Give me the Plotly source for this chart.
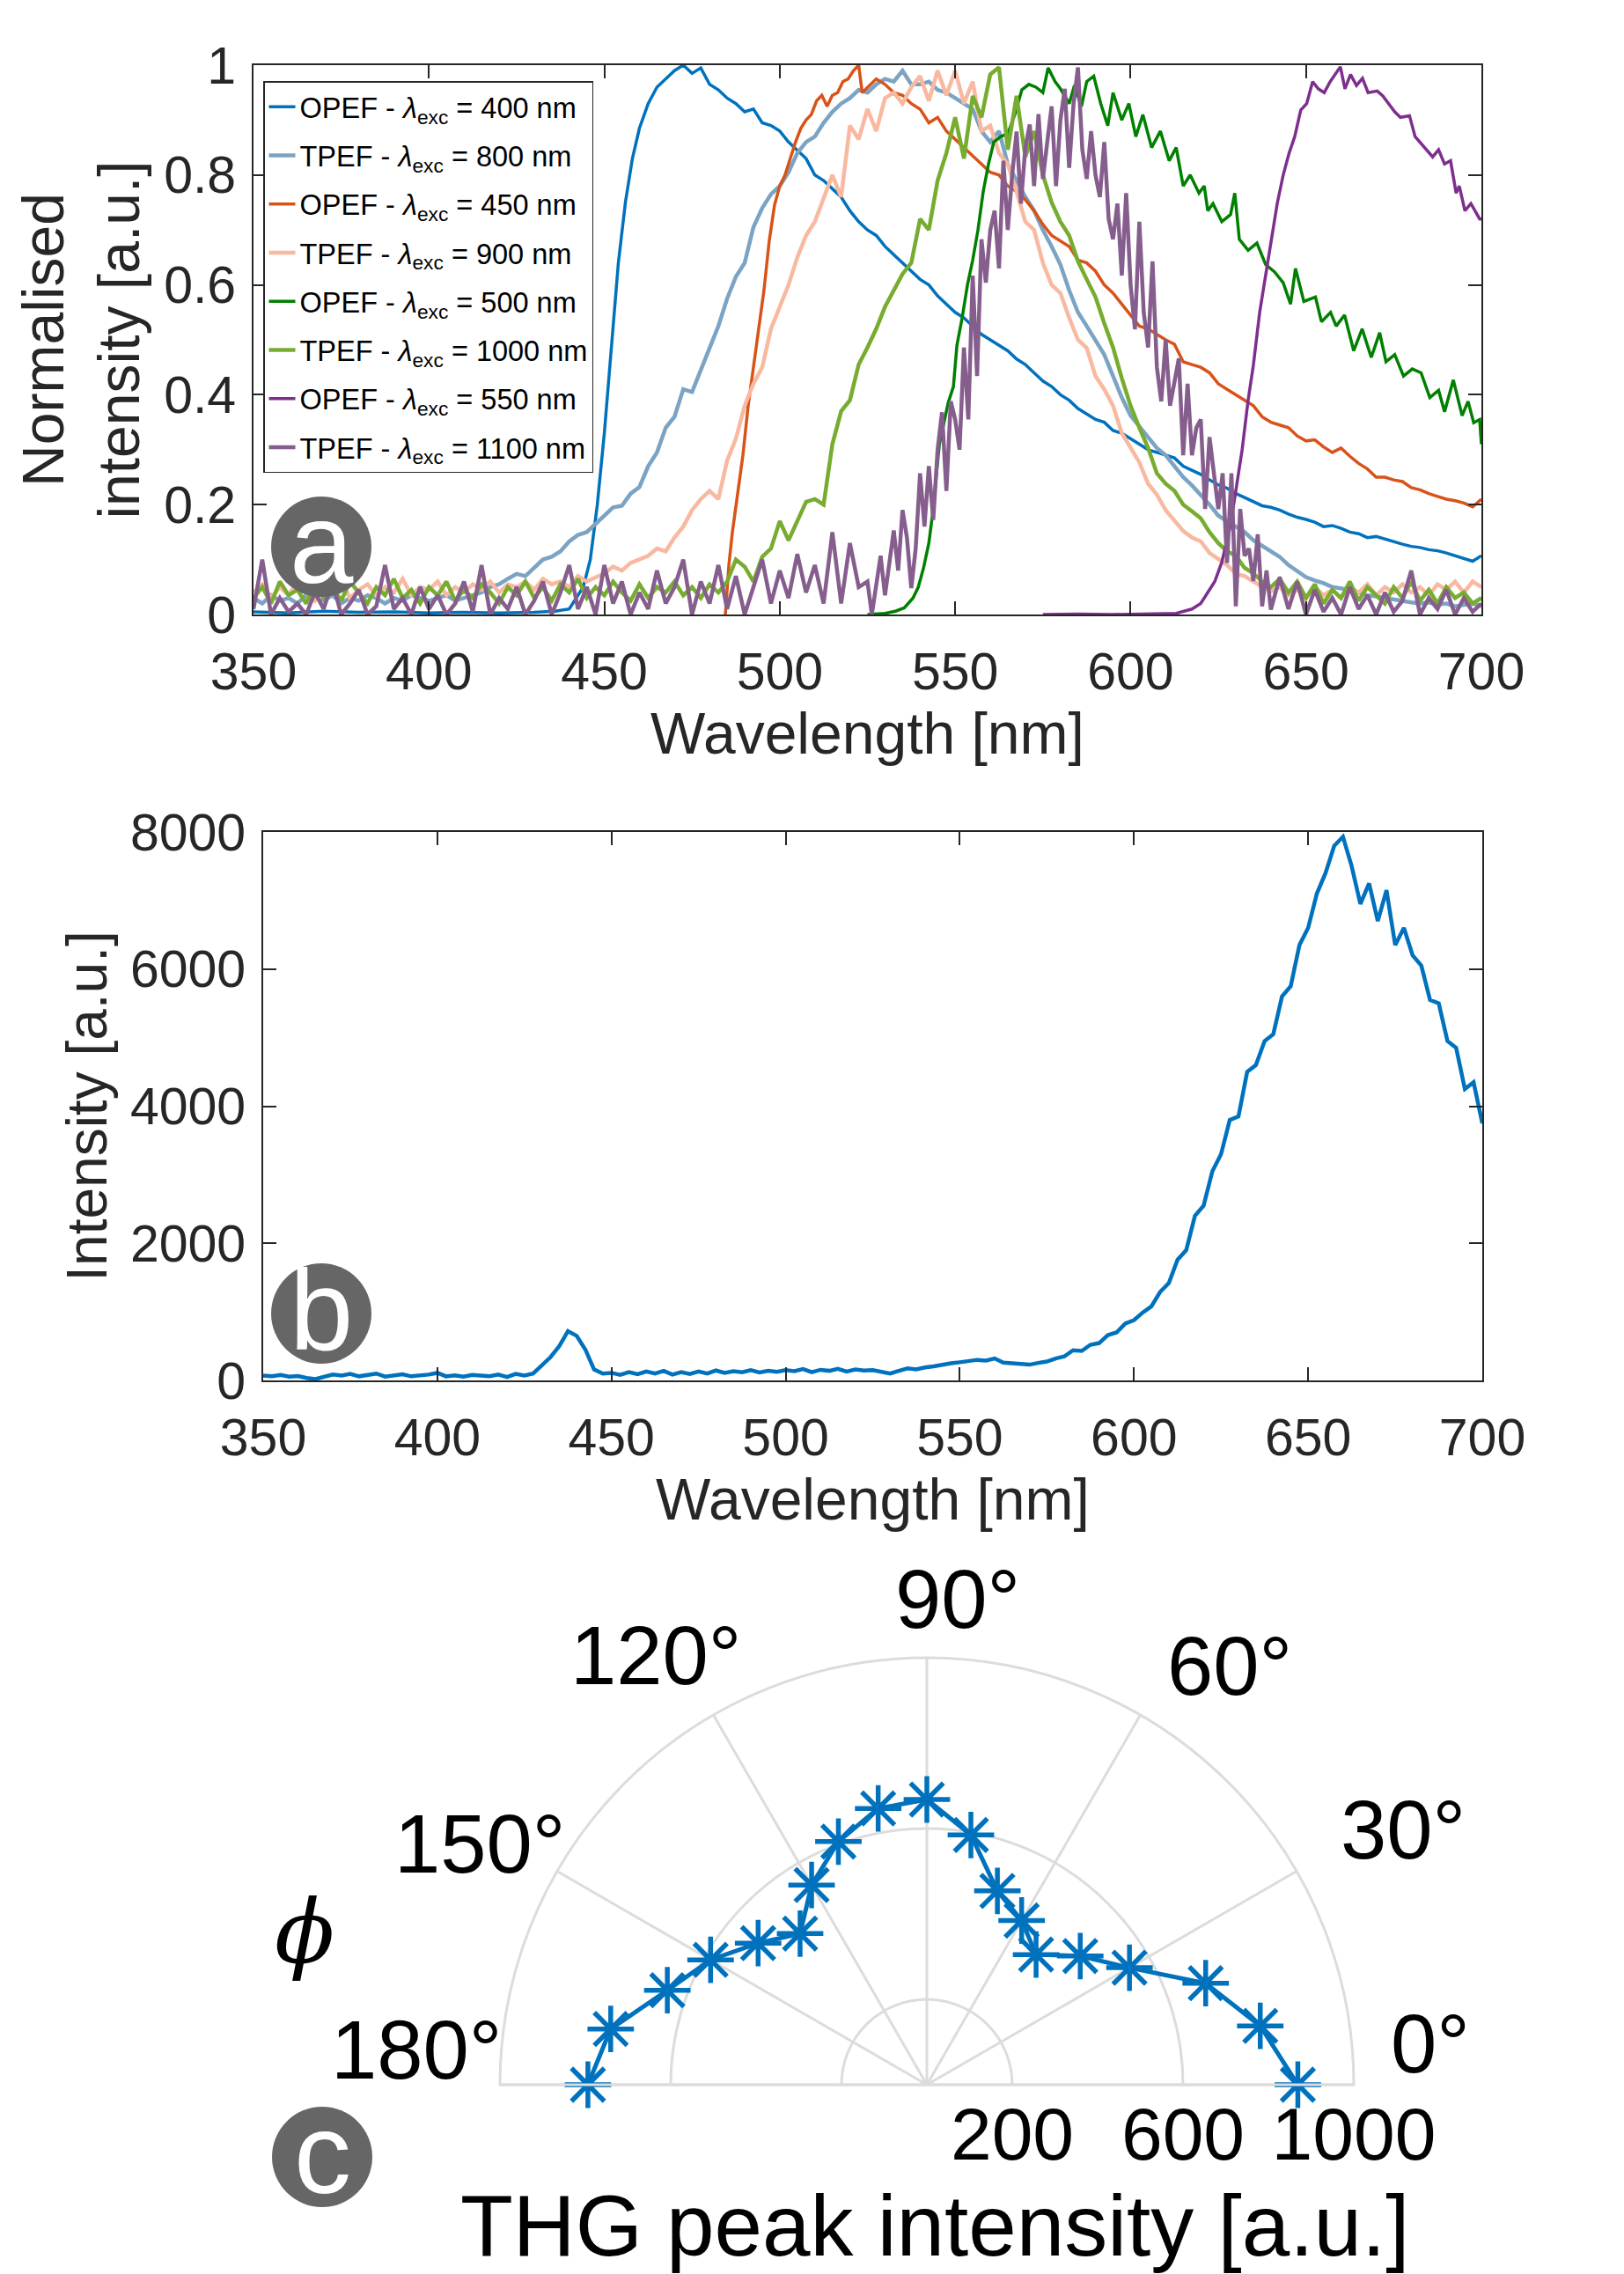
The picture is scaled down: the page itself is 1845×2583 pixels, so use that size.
import plotly.graph_objects as go

# ---------------- data: panel (a) ----------------
# one-photon spectra (own wavelength samples)
OPEF400_WL = [350, 360, 370, 380, 390, 400, 410, 420, 430, 436, 440, 442, 444, 446, 448, 450, 452, 454, 456, 458, 460,
              462.5, 465, 467.5, 470, 472.5, 475, 477.5, 480, 482.5, 485, 487.5, 490, 492.5, 495, 497.5,
              500, 502.5, 505, 507.5, 510, 512.5, 515, 517.5, 520, 522.5, 525, 527.5, 530, 532.5, 535, 537.5,
              540, 542.5, 545, 547.5, 550, 552.5, 555, 557.5, 560, 562.5, 565, 567.5, 570, 572.5, 575, 577.5,
              580, 582.5, 585, 587.5, 590, 592.5, 595, 597.5, 600, 602.5, 605, 607.5, 610, 612.5, 615, 617.5,
              620, 622.5, 625, 627.5, 630, 632.5, 635, 637.5, 640, 642.5, 645, 647.5, 650, 652.5, 655, 657.5,
              660, 662.5, 665, 667.5, 670, 672.5, 675, 677.5, 680, 682.5, 685, 687.5, 690, 692.5, 695, 697.5, 700]
OPEF400_I = [0.005, 0.003, 0.006, 0.004, 0.005, 0.003, 0.004, 0.003, 0.004, 0.006, 0.01, 0.03, 0.05, 0.10, 0.20, 0.33, 0.49, 0.64, 0.75, 0.83, 0.885,
             0.93, 0.96, 0.975, 0.99, 1.0, 0.985, 0.995, 0.965, 0.955, 0.94, 0.93, 0.915, 0.92, 0.895, 0.89,
             0.88, 0.86, 0.845, 0.83, 0.80, 0.79, 0.775, 0.76, 0.735, 0.715, 0.70, 0.69, 0.67, 0.655, 0.64, 0.625,
             0.61, 0.60, 0.58, 0.565, 0.55, 0.54, 0.525, 0.51, 0.50, 0.49, 0.48, 0.465, 0.455, 0.44, 0.425, 0.415,
             0.40, 0.39, 0.375, 0.365, 0.355, 0.35, 0.335, 0.33, 0.32, 0.31, 0.30, 0.295, 0.29, 0.285, 0.27, 0.262,
             0.255, 0.245, 0.236, 0.23, 0.22, 0.213, 0.205, 0.198, 0.195, 0.19, 0.183, 0.177, 0.173, 0.168, 0.16, 0.162,
             0.157, 0.15, 0.147, 0.14, 0.142, 0.137, 0.132, 0.128, 0.124, 0.122, 0.118, 0.116, 0.112, 0.107, 0.103, 0.097, 0.107]

OPEF450_WL = [484.5, 485.5, 486.5, 488, 489.5, 491, 492.5, 494, 495.5, 497, 498.5, 500, 501.5, 503, 504.5, 506, 507.5,
              509, 510.5, 512, 513.5, 515, 516.5, 518, 519.5, 521, 522.5, 523.5, 525, 527.5, 530, 532.5, 535, 537.5,
              540, 542.5, 545, 547.5, 550, 552.5, 555, 557.5, 560, 562.5, 565, 567.5, 570, 572.5, 575, 577.5,
              580, 582.5, 585, 587.5, 590, 592.5, 595, 597.5, 600, 602.5, 605, 607.5, 610, 612.5, 615, 617.5,
              620, 622.5, 625, 627.5, 630, 632.5, 635, 637.5, 640, 642.5, 645, 647.5, 650, 652.5, 655, 657.5,
              660, 662.5, 665, 667.5, 670, 672.5, 675, 677.5, 680, 682.5, 685, 687.5, 690, 692.5, 695, 697.5, 700]
OPEF450_I = [0.0, 0.09, 0.15, 0.225, 0.29, 0.38, 0.45, 0.53, 0.59, 0.68, 0.745, 0.78, 0.80, 0.83, 0.86, 0.885, 0.90,
             0.91, 0.935, 0.945, 0.925, 0.945, 0.95, 0.97, 0.975, 0.99, 1.0, 0.95, 0.96, 0.975, 0.965, 0.95, 0.945, 0.93,
             0.92, 0.895, 0.905, 0.88, 0.865, 0.85, 0.835, 0.82, 0.805, 0.80, 0.78, 0.77, 0.755, 0.735, 0.71, 0.69,
             0.68, 0.67, 0.645, 0.64, 0.625, 0.60, 0.585, 0.565, 0.545, 0.525, 0.52, 0.51, 0.50, 0.492, 0.46, 0.455,
             0.45, 0.44, 0.42, 0.41, 0.40, 0.39, 0.38, 0.36, 0.35, 0.345, 0.34, 0.325, 0.316, 0.318, 0.305, 0.295,
             0.303, 0.288, 0.275, 0.265, 0.25, 0.25, 0.245, 0.242, 0.231, 0.227, 0.22, 0.215, 0.21, 0.207, 0.203, 0.196, 0.21]

OPEF500_WL = [525, 530, 533, 535.5, 538, 539.5, 541, 542.5, 543.5, 544.5, 545.5, 546.5, 548, 549.5, 550.5, 552, 553.5,
              555, 556.5, 558, 559.5, 561, 563, 565, 567, 569, 571, 573, 575, 576.5, 578.5, 580, 582.5, 584, 586,
              587.5, 589.5, 591.5, 593.5, 595, 597.5, 599.5, 601.5, 603.5, 606, 608.5, 611, 613, 615, 617, 619.5,
              621, 622, 623.5, 626, 628.5, 629.7, 631, 633.5, 636, 638.5, 641, 643.5, 645.6, 647, 649.4, 652.7,
              654.4, 657, 658.6, 661, 663.6, 666, 668.6, 671, 672.8, 675.3, 677.8, 680.3, 682.8, 685.3, 687.8,
              689.5, 692, 694.5, 696.2, 697.8, 699.5, 700]
OPEF500_I = [0.0, 0.002, 0.006, 0.012, 0.03, 0.05, 0.085, 0.13, 0.18, 0.25, 0.31, 0.34, 0.385, 0.415, 0.49, 0.54, 0.60,
             0.645, 0.70, 0.77, 0.82, 0.86, 0.87, 0.875, 0.91, 0.955, 0.965, 0.96, 0.95, 0.995, 0.97, 0.957, 0.93, 0.963, 0.925,
             0.97, 0.98, 0.93, 0.89, 0.95, 0.90, 0.93, 0.87, 0.91, 0.85, 0.88, 0.826, 0.85, 0.78, 0.80, 0.767,
             0.78, 0.735, 0.748, 0.715, 0.728, 0.767, 0.683, 0.663, 0.676, 0.637, 0.624, 0.604, 0.565, 0.63, 0.57, 0.578,
             0.533, 0.55, 0.525, 0.545, 0.48, 0.52, 0.468, 0.513, 0.46, 0.473, 0.434, 0.447, 0.44, 0.395, 0.408,
             0.369, 0.427, 0.362, 0.388, 0.349, 0.355, 0.31]

OPEF550_WL = [575, 585, 595, 605, 613, 617.5, 620, 622, 624, 626, 628.4, 630, 631.8, 633.5, 635, 636.8, 638.5, 640.2,
              641.8, 643.5, 645.2, 646.8, 648.5, 650.2, 651.9, 653.5, 655.2, 656.9, 658.6, 659.8, 661.1, 662.7, 664.4,
              666.1, 667.7, 670.3, 671.9, 673.6, 675.3, 676.9, 679.5, 681.1, 682.8, 684.5, 686.1, 687.8, 689.5, 691.2,
              692.8, 693.7, 695.3, 697, 699.5, 700]
OPEF550_I = [0.0, 0.001, 0.0, 0.001, 0.002, 0.01, 0.02, 0.04, 0.06, 0.095, 0.16, 0.225, 0.30, 0.39, 0.454, 0.55, 0.617, 0.683,
             0.748, 0.80, 0.84, 0.87, 0.918, 0.93, 0.97, 0.957, 0.95, 0.97, 0.987, 0.997, 0.957, 0.983, 0.963,
             0.976, 0.95, 0.953, 0.944, 0.93, 0.915, 0.905, 0.908, 0.87, 0.858, 0.846, 0.833, 0.846, 0.82, 0.826,
             0.767, 0.78, 0.735, 0.748, 0.72, 0.72]

# two-photon spectra share one wavelength grid (350 ... 700 nm, 2.5 nm)
TPEF_WL = [350, 352.5, 355, 357.5, 360, 362.5, 365, 367.5, 370, 372.5,
           375, 377.5, 380, 382.5, 385, 387.5, 390, 392.5, 395, 397.5,
           400, 402.5, 405, 407.5, 410, 412.5, 415, 417.5, 420, 422.5,
           425, 427.5, 430, 432.5, 435, 437.5, 440, 442.5, 445, 447.5,
           450, 452.5, 455, 457.5, 460, 462.5, 465, 467.5, 470, 472.5,
           475, 477.5, 480, 482.5, 485, 487.5, 490, 492.5, 495, 497.5,
           500, 502.5, 505, 507.5, 510, 512.5, 515, 517.5, 520, 522.5,
           525, 527.5, 530, 532.5, 535, 537.5, 540, 542.5, 545, 547.5,
           550, 552.5, 555, 557.5, 560, 562.5, 565, 567.5, 570, 572.5,
           575, 577.5, 580, 582.5, 585, 587.5, 590, 592.5, 595, 597.5,
           600, 602.5, 605, 607.5, 610, 612.5, 615, 617.5, 620, 622.5,
           625, 627.5, 630, 632.5, 635, 637.5, 640, 642.5, 645, 647.5,
           650, 652.5, 655, 657.5, 660, 662.5, 665, 667.5, 670, 672.5,
           675, 677.5, 680, 682.5, 685, 687.5, 690, 692.5, 695, 697.5,
           700]

TPEF800_I = [0.03, 0.02, 0.035, 0.025, 0.03, 0.02, 0.035, 0.03, 0.025, 0.035,
             0.02, 0.03, 0.025, 0.035, 0.03, 0.02, 0.03, 0.025, 0.035, 0.03,
             0.025, 0.03, 0.035, 0.025, 0.03, 0.035, 0.04, 0.05, 0.055, 0.065,
             0.074, 0.07, 0.085, 0.10, 0.105, 0.115, 0.133, 0.145, 0.15, 0.165,
             0.178, 0.195, 0.198, 0.22, 0.232, 0.27, 0.295, 0.34, 0.36, 0.41,
             0.405, 0.445, 0.485, 0.525, 0.575, 0.615, 0.64, 0.705, 0.74, 0.765,
             0.78, 0.805, 0.84, 0.86, 0.87, 0.895, 0.915, 0.93, 0.94, 0.955,
             0.95, 0.965, 0.975, 0.97, 0.99, 0.965, 0.965, 0.97, 0.955, 0.95,
             0.94, 0.93, 0.92, 0.88, 0.86, 0.88, 0.82, 0.79, 0.76, 0.735,
             0.70, 0.67, 0.637, 0.59, 0.55, 0.525, 0.50, 0.473, 0.434, 0.395,
             0.362, 0.342, 0.323, 0.303, 0.29, 0.27, 0.25, 0.235, 0.218, 0.20,
             0.18, 0.17, 0.159, 0.15, 0.135, 0.125, 0.113, 0.105, 0.09, 0.078,
             0.068, 0.062, 0.057, 0.05, 0.048, 0.045, 0.04, 0.035, 0.033, 0.03,
             0.028, 0.025, 0.022, 0.02, 0.022, 0.018, 0.02, 0.015, 0.018, 0.02,
             0.015]

TPEF900_I = [0.04, 0.055, 0.03, 0.05, 0.035, 0.06, 0.04, 0.025, 0.05, 0.04,
             0.06, 0.03, 0.045, 0.055, 0.035, 0.05, 0.04, 0.065, 0.035, 0.05,
             0.045, 0.06, 0.035, 0.05, 0.04, 0.055, 0.045, 0.06, 0.04, 0.055,
             0.05, 0.06, 0.045, 0.065, 0.055, 0.06, 0.05, 0.07, 0.06, 0.068,
             0.075, 0.087, 0.08, 0.094, 0.10, 0.107, 0.12, 0.115, 0.14, 0.16,
             0.19, 0.21, 0.225, 0.21, 0.28, 0.32, 0.38, 0.42, 0.45, 0.52,
             0.56, 0.60, 0.65, 0.69, 0.715, 0.76, 0.80, 0.76, 0.89, 0.865,
             0.92, 0.88, 0.94, 0.95, 0.93, 0.96, 0.98, 0.935, 0.99, 0.945,
             0.99, 0.93, 0.97, 0.88, 0.89, 0.84, 0.82, 0.77, 0.715, 0.70,
             0.64, 0.60, 0.585, 0.54, 0.50, 0.485, 0.434, 0.41, 0.38, 0.33,
             0.303, 0.277, 0.238, 0.218, 0.19, 0.17, 0.152, 0.14, 0.133, 0.112,
             0.10, 0.09, 0.074, 0.07, 0.06, 0.052, 0.042, 0.05, 0.035, 0.045,
             0.03, 0.05, 0.035, 0.045, 0.03, 0.05, 0.04, 0.055, 0.035, 0.05,
             0.04, 0.055, 0.04, 0.05, 0.035, 0.055, 0.045, 0.06, 0.04, 0.06,
             0.05]

TPEF1000_I = [0.03, 0.05, 0.02, 0.06, 0.035, 0.045, 0.02, 0.055, 0.03, 0.05,
              0.025, 0.06, 0.04, 0.02, 0.05, 0.035, 0.065, 0.03, 0.045, 0.02,
              0.05, 0.035, 0.06, 0.025, 0.045, 0.03, 0.055, 0.04, 0.02, 0.05,
              0.035, 0.06, 0.03, 0.05, 0.025, 0.055, 0.04, 0.065, 0.03, 0.05,
              0.035, 0.06, 0.04, 0.025, 0.055, 0.03, 0.05, 0.04, 0.06, 0.035,
              0.05, 0.03, 0.055, 0.04, 0.06, 0.10, 0.087, 0.06, 0.105, 0.12,
              0.17, 0.135, 0.17, 0.205, 0.21, 0.20, 0.31, 0.37, 0.39, 0.455,
              0.486, 0.52, 0.56, 0.59, 0.62, 0.64, 0.72, 0.70, 0.79, 0.84,
              0.905, 0.83, 0.944, 0.905, 0.983, 0.996, 0.846, 0.944, 0.833, 0.88,
              0.80, 0.75, 0.715, 0.69, 0.643, 0.61, 0.578, 0.53, 0.486, 0.43,
              0.38, 0.34, 0.303, 0.257, 0.238, 0.225, 0.20, 0.188, 0.175, 0.15,
              0.13, 0.115, 0.107, 0.085, 0.075, 0.06, 0.05, 0.065, 0.04, 0.06,
              0.03, 0.055, 0.02, 0.045, 0.03, 0.06, 0.025, 0.05, 0.035, 0.02,
              0.05, 0.03, 0.06, 0.025, 0.045, 0.02, 0.05, 0.03, 0.04, 0.02,
              0.03]

# the 1100 nm spectrum is sampled more finely where it is strong (525 ... 640 nm)
TPEF1100_WL = [350, 352.5, 355, 357.5, 360, 362.5, 365, 367.5, 370, 372.5,
               375, 377.5, 380, 382.5, 385, 387.5, 390, 392.5, 395, 397.5,
               400, 402.5, 405, 407.5, 410, 412.5, 415, 417.5, 420, 422.5,
               425, 427.5, 430, 432.5, 435, 437.5, 440, 442.5, 445, 447.5,
               450, 452.5, 455, 457.5, 460, 462.5, 465, 467.5, 470, 472.5,
               475, 477.5, 480, 482.5, 485, 487.5, 490, 492.5, 495, 497.5,
               500, 502.5, 505, 507.5, 510, 512.5, 515, 517.5, 520, 522.5,
               525, 526.25, 527.5, 528.75, 530, 531.25, 532.5, 533.75, 535, 536.25,
               537.5, 538.75, 540, 541.25, 542.5, 543.75, 545, 546.25, 547.5, 548.75,
               550, 551.25, 552.5, 553.75, 555, 556.25, 557.5, 558.75, 560, 561.25,
               562.5, 563.75, 565, 566.25, 567.5, 568.75, 570, 571.25, 572.5, 573.75,
               575, 576.25, 577.5, 578.75, 580, 581.25, 582.5, 583.75, 585, 586.25,
               587.5, 588.75, 590, 591.25, 592.5, 593.75, 595, 596.25, 597.5, 598.75,
               600, 601.25, 602.5, 603.75, 605, 606.25, 607.5, 608.75, 610, 611.25,
               612.5, 613.75, 615, 616.25, 617.5, 618.75, 620, 621.25, 622.5, 623.75,
               625, 626.25, 627.5, 628.75, 630, 631.25, 632.5, 633.75, 635, 636.25,
               637.5, 638.75, 640,
               642.5, 645, 647.5, 650, 652.5, 655, 657.5, 660, 662.5, 665,
               667.5, 670, 672.5, 675, 677.5, 680, 682.5, 685, 687.5, 690,
               692.5, 695, 697.5, 700]
TPEF1100_I = [0.01, 0.10, 0.0, 0.03, 0.005, 0.02, 0.0, 0.04, 0.01, 0.06,
              0.0, 0.02, 0.045, 0.0, 0.015, 0.09, 0.01, 0.03, 0.0, 0.05,
              0.01, 0.035, 0.0, 0.02, 0.06, 0.005, 0.09, 0.0, 0.03, 0.01,
              0.05, 0.0, 0.025, 0.06, 0.0, 0.04, 0.09, 0.01, 0.05, 0.0,
              0.09, 0.02, 0.06, 0.0, 0.04, 0.01, 0.08, 0.02, 0.05, 0.10,
              0.0, 0.06, 0.02, 0.09, 0.01, 0.07, 0.0, 0.05, 0.10, 0.02,
              0.08, 0.03, 0.11, 0.04, 0.09, 0.02, 0.15, 0.02, 0.13, 0.05,
              0.06, 0.0, 0.05, 0.107, 0.035, 0.09, 0.153, 0.08, 0.19, 0.14,
              0.048, 0.12, 0.257, 0.16, 0.27, 0.172, 0.30, 0.368, 0.225, 0.388,
              0.355, 0.30, 0.486, 0.355, 0.617, 0.434, 0.683, 0.604, 0.70, 0.735,
              0.63, 0.826, 0.70, 0.80, 0.879, 0.748, 0.85, 0.892, 0.78, 0.911,
              0.793, 0.86, 0.925, 0.78, 0.90, 0.957, 0.813, 0.93, 0.996, 0.846,
              0.793, 0.88, 0.80, 0.76, 0.86, 0.72, 0.683, 0.748, 0.617, 0.767,
              0.60, 0.519, 0.715, 0.55, 0.486, 0.643, 0.45, 0.388, 0.50, 0.38,
              0.42, 0.466, 0.29, 0.42, 0.29, 0.34, 0.355, 0.192, 0.323, 0.25,
              0.192, 0.257, 0.094, 0.257, 0.015, 0.192, 0.107, 0.12, 0.061, 0.146,
              0.015, 0.08, 0.009,
              0.068, 0.01, 0.06, 0.0, 0.045, 0.005, 0.03, 0.0, 0.05, 0.01,
              0.035, 0.0, 0.04, 0.005, 0.025, 0.08, 0.0, 0.03, 0.01, 0.045,
              0.0, 0.03, 0.005, 0.02]

# ---------------- data: panel (b) ----------------
SPEC_WL = TPEF_WL
SPEC_I = [70, 60, 80, 55, 65, 35, 20, 60, 85, 70,
          95, 60, 80, 100, 55, 75, 90, 60, 70, 85,
          110, 60, 75, 55, 80, 70, 60, 85, 50, 95,
          70, 100, 220, 340, 500, 720, 650, 450, 160, 100,
          110, 80, 120, 90, 130, 100, 140, 85, 120, 95,
          130, 100, 145, 110, 135, 120, 150, 115, 140, 125,
          150, 135, 165, 120, 155, 140, 170, 130, 160, 145,
          150, 120, 100, 140, 175, 160, 190, 205, 230, 250,
          265, 280, 300, 290, 320, 260, 250, 240, 230, 255,
          275, 320, 350, 440, 430, 520, 545, 660, 700, 830,
          880, 990, 1080, 1290, 1420, 1760, 1900, 2400, 2550, 3050,
          3300, 3800, 3850, 4500, 4600, 4950, 5050, 5600, 5750, 6350,
          6600, 7100, 7400, 7800, 7930, 7500, 6950, 7250, 6700, 7150,
          6350, 6600, 6200, 6050, 5550, 5500, 4950, 4850, 4250, 4350,
          3750]

# ---------------- data: panel (c) ----------------
THG_PHI = [0, 10, 20, 30, 40, 50, 60, 70, 80, 90, 100, 110, 120, 130, 140, 150, 160, 170, 180]
THG_R = [869, 793, 695, 548, 469, 398, 444, 483, 594, 668, 657, 606, 540, 462, 516, 585, 647, 752, 794]
ANGLE_TICKS = [0, 30, 60, 90, 120, 150, 180]
RADIAL_TICKS = [200, 600, 1000]

for arr in (TPEF800_I, TPEF900_I, TPEF1000_I, SPEC_I):
    assert len(arr) == len(TPEF_WL), len(arr)
for a, b in ((OPEF400_WL, OPEF400_I), (OPEF450_WL, OPEF450_I), (OPEF500_WL, OPEF500_I),
             (OPEF550_WL, OPEF550_I), (TPEF1100_WL, TPEF1100_I)):
    assert len(a) == len(b), (len(a), len(b))

# ---------------- figure ----------------
W, H = 1845, 2583
FONT = "Arial, 'Liberation Sans', Helvetica, sans-serif"
AX = "#262626"


def fx(p):
    return p / W


def fy(p):
    return 1 - p / H


def lam(kind, exc):
    return f"{kind} - <i>λ</i><sub>exc</sub> = {exc} nm"


series = [
    (OPEF400_WL, OPEF400_I, lam("OPEF", 400), "#0072BD", 3.5),
    (TPEF_WL, TPEF800_I, lam("TPEF", 800), "#7BA3C4", 4.5),
    (OPEF450_WL, OPEF450_I, lam("OPEF", 450), "#D95319", 3.5),
    (TPEF_WL, TPEF900_I, lam("TPEF", 900), "#F8B9A0", 4.5),
    (OPEF500_WL, OPEF500_I, lam("OPEF", 500), "#008000", 3.5),
    (TPEF_WL, TPEF1000_I, lam("TPEF", 1000), "#77AC30", 4.5),
    (OPEF550_WL, OPEF550_I, lam("OPEF", 550), "#7E2F8E", 3.5),
    (TPEF1100_WL, TPEF1100_I, lam("TPEF", 1100), "#865E8E", 4.5),
]

fig = go.Figure()
for i, (x, y, name, col, w) in enumerate(series):
    fig.add_trace(go.Scatter(x=x, y=y, name=name, mode="lines", legendgroup=f"g{i}",
                             line=dict(color=col, width=w), xaxis="x", yaxis="y"))

fig.add_trace(go.Scatter(x=SPEC_WL, y=SPEC_I, mode="lines", showlegend=False,
                         line=dict(color="#0072BD", width=4.5), xaxis="x2", yaxis="y2"))

fig.add_trace(go.Scatterpolar(r=THG_R, theta=THG_PHI, mode="lines+markers", showlegend=False,
                              cliponaxis=False,
                              line=dict(color="#0072BD", width=5),
                              marker=dict(symbol="asterisk-open", size=44,
                                          line=dict(color="#0072BD", width=5.5))))

axis_common = dict(showline=True, linecolor=AX, linewidth=2, mirror="ticks", ticks="inside",
                   ticklen=15, tickwidth=2, tickcolor=AX, showgrid=False, zeroline=False,
                   automargin=False,
                   tickfont=dict(family=FONT, size=59, color=AX))

fig.update_layout(
    width=W, height=H,
    margin=dict(l=0, r=0, t=0, b=0, autoexpand=False),
    paper_bgcolor="white", plot_bgcolor="white",
    font=dict(family=FONT, color=AX),
    xaxis=dict(domain=[fx(280), fx(1675)], anchor="y", range=[350, 700], tick0=350, dtick=50,
               ticklabelstandoff=12,
               title=dict(text="Wavelength [nm]", font=dict(size=66, color=AX), standoff=12),
               **axis_common),
    yaxis=dict(domain=[fy(690), fy(66)], anchor="x", range=[0, 1], dtick=0.2,
               ticklabelstandoff=6,
               title=dict(text="Normalised<br>intensity [a.u.]", font=dict(size=66, color=AX), standoff=6),
               **axis_common),
    xaxis2=dict(domain=[fx(291), fx(1676)], anchor="y2", range=[350, 700], tick0=350, dtick=50,
                ticklabelstandoff=12,
                title=dict(text="Wavelength [nm]", font=dict(size=66, color=AX), standoff=12),
                **axis_common),
    yaxis2=dict(domain=[fy(1560), fy(937)], anchor="x2", range=[0, 8000], dtick=2000,
                ticklabelstandoff=6,
                title=dict(text="Intensity [a.u.]", font=dict(size=64, color=AX), standoff=6),
                **axis_common),
    polar=dict(
        domain=dict(x=[fx(560), fx(1530)], y=[fy(2360), fy(1875)]),
        sector=[0, 180],
        bgcolor="white",
        radialaxis=dict(range=[0, 1000], tickvals=RADIAL_TICKS, showline=False, ticks="",
                        gridcolor="#DCDCDC", gridwidth=3, angle=0, side="clockwise", tickangle=0,
                        tickfont=dict(family=FONT, size=84, color="black")),
        angularaxis=dict(tickvals=ANGLE_TICKS, direction="counterclockwise", rotation=0, ticks="",
                         showticklabels=False,
                         gridcolor="#DCDCDC", gridwidth=3, showline=True, linecolor="#DCDCDC",
                         linewidth=3),
    ),
    legend=dict(x=fx(291), y=fy(84), xanchor="left", yanchor="top", bgcolor="white",
                bordercolor=AX, borderwidth=1.5, itemwidth=30, tracegroupgap=10,
                font=dict(family=FONT, size=32.5, color="black")),
)

# angular tick labels of the polar panel, placed where the reference shows them
angle_label_pos = {0: (1617, 2313), 30: (1586, 2070), 60: (1389, 1884), 90: (1080, 1808),
                   120: (737, 1872), 150: (537, 2086), 180: (465, 2320)}
for a in ANGLE_TICKS:
    px, py = angle_label_pos[a]
    fig.add_annotation(text=f"{a}°", xref="paper", yref="paper", x=fx(px), y=fy(py),
                       xanchor="center", yanchor="middle", showarrow=False,
                       font=dict(family=FONT, size=94, color="black"))

# panel badges
badges = [("a", 357, 613), ("b", 357, 1484), ("c", 358, 2442)]
for letter, cx, cy in badges:
    r = 57
    fig.add_shape(type="circle", xref="paper", yref="paper", layer="above",
                  x0=fx(cx - r), x1=fx(cx + r), y0=fy(cy + r), y1=fy(cy - r),
                  fillcolor="#666666", line=dict(width=0))
    fig.add_annotation(text=letter, xref="paper", yref="paper", x=fx(cx), y=fy(cy - 4),
                       xanchor="center", yanchor="middle", showarrow=False,
                       font=dict(family=FONT, size=130, color="white"))

fig.add_annotation(text="<i>ϕ</i>", xref="paper", yref="paper", x=fx(338), y=fy(2186),
                   xanchor="center", yanchor="middle", showarrow=False,
                   font=dict(family="'DejaVu Serif', 'Liberation Serif', serif", size=100, color="black"))
fig.add_annotation(text="THG peak intensity [a.u.]", xref="paper", yref="paper", x=fx(1054), y=fy(2520),
                   xanchor="center", yanchor="middle", showarrow=False,
                   font=dict(family=FONT, size=98, color="black"))

fig.write_html("out.html")
